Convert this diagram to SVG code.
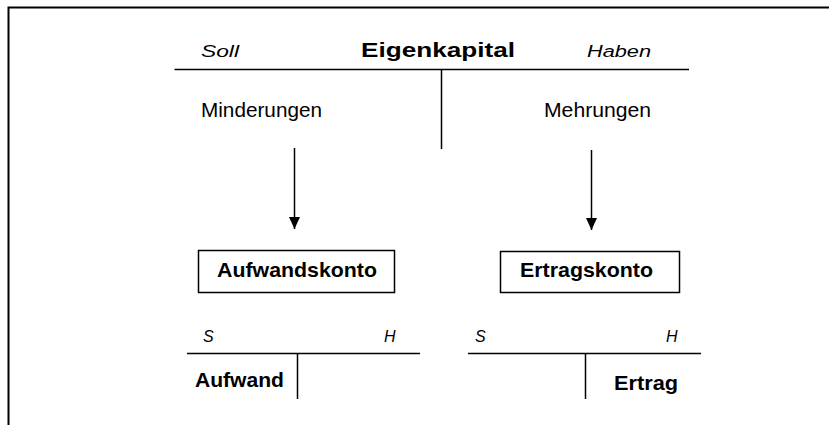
<svg xmlns="http://www.w3.org/2000/svg" width="829" height="425" viewBox="0 0 829 425">
  <style>
    .ln { stroke: #000; stroke-width: 1.5; fill: none; }
    .frame { stroke: #000; stroke-width: 2; fill: none; }
    .box { stroke: #000; stroke-width: 1.5; fill: #fff; }
    .t { font-family: "Liberation Sans", Arial, sans-serif; fill: #000; }
    .b { font-weight: bold; }
    .i { font-style: italic; }
  </style>
  <defs>
    <marker id="arrow" viewBox="0 0 12 11" refX="12" refY="5.5" markerWidth="12" markerHeight="11" markerUnits="userSpaceOnUse" orient="auto">
      <path d="M0,0 L12,5.5 L0,11 z" fill="#000"/>
    </marker>
  </defs>
  <rect width="829" height="425" fill="#fff"/>
  <path class="frame" d="M8.5,425 V7.5 H829"/>

  <g id="eigenkapital">
    <text class="t i" x="201" y="57" font-size="16.3" textLength="38" lengthAdjust="spacingAndGlyphs">Soll</text>
    <text class="t b" x="361" y="57" font-size="19.5" textLength="154" lengthAdjust="spacingAndGlyphs">Eigenkapital</text>
    <text class="t i" x="587" y="57" font-size="16.3" textLength="64" lengthAdjust="spacingAndGlyphs">Haben</text>
    <path class="ln" d="M174.5,69.5 H689 M441.5,69.5 V149"/>
    <text class="t" x="201" y="117" font-size="19.5" textLength="121" lengthAdjust="spacingAndGlyphs">Minderungen</text>
    <text class="t" x="544" y="117" font-size="19.5" textLength="107" lengthAdjust="spacingAndGlyphs">Mehrungen</text>
  </g>

  <g id="aufwandskonto">
    <rect class="box" x="198.5" y="250.5" width="196" height="42"/>
    <text class="t b" x="217" y="277" font-size="21" textLength="160" lengthAdjust="spacingAndGlyphs">Aufwandskonto</text>
  </g>

  <g id="ertragskonto">
    <rect class="box" x="500.5" y="251.5" width="179" height="41"/>
    <text class="t b" x="520" y="277" font-size="21" textLength="133" lengthAdjust="spacingAndGlyphs">Ertragskonto</text>
  </g>

  <g id="aufwand-konto">
    <text class="t i" x="203" y="342" font-size="16">S</text>
    <text class="t i" x="384" y="342" font-size="16">H</text>
    <path class="ln" d="M187,353.5 H420 M297.5,353.5 V399"/>
    <text class="t b" x="195" y="387" font-size="20" textLength="89" lengthAdjust="spacingAndGlyphs">Aufwand</text>
  </g>

  <g id="ertrag-konto">
    <text class="t i" x="475" y="342" font-size="16">S</text>
    <text class="t i" x="666" y="342" font-size="16">H</text>
    <path class="ln" d="M468,353.5 H701 M585.5,353.5 V399"/>
    <text class="t b" x="614" y="390" font-size="20" textLength="64" lengthAdjust="spacingAndGlyphs">Ertrag</text>
  </g>

  <g id="connectors">
    <line class="ln" x1="294.5" y1="148" x2="294.5" y2="229" marker-end="url(#arrow)"/>
    <line class="ln" x1="591.5" y1="150" x2="591.5" y2="230" marker-end="url(#arrow)"/>
  </g>
</svg>
